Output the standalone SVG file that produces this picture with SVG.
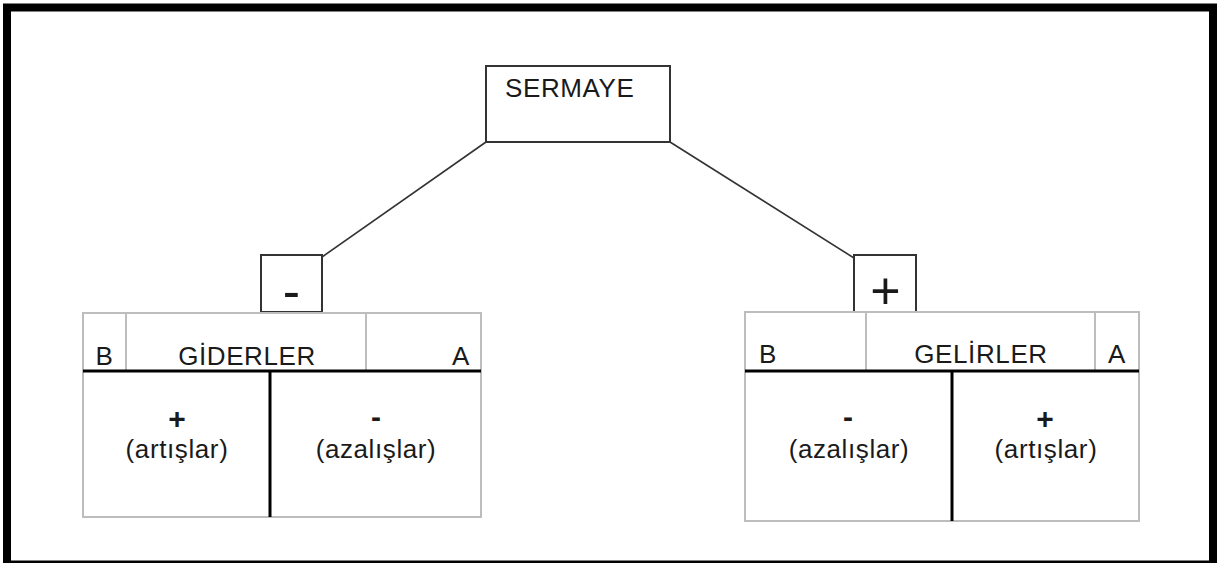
<svg xmlns="http://www.w3.org/2000/svg" width="1221" height="563" viewBox="0 0 1221 563">
<style>
text{font-family:"Liberation Sans",Arial,sans-serif;fill:#1a1a1a}
.lbl{font-size:26px;letter-spacing:0.6px}
.sign{font-size:30px;font-weight:bold;text-anchor:middle}
.big{font-size:52px;text-anchor:middle}
.mid{text-anchor:middle}
.box{fill:#fff;stroke:#333;stroke-width:2}
.tbl{fill:#fff;stroke:#bdbdbd;stroke-width:2}
.div{stroke:#bdbdbd;stroke-width:2}
.thick{stroke:#000;stroke-width:3}
.conn{stroke:#333;stroke-width:1.6;fill:none}
</style>
<rect x="0" y="0" width="1221" height="563" fill="#fff"/>
<rect x="7" y="7.5" width="1206" height="557" fill="none" stroke="#000" stroke-width="8"/>
<g id="connectors">
<line class="conn" x1="486" y1="142" x2="322" y2="257"/>
<line class="conn" x1="670" y1="142" x2="854" y2="258"/>
</g>
<g id="sermaye">
<rect class="box" x="486" y="66" width="184" height="76"/>
<text class="lbl" x="505" y="97">SERMAYE</text>
</g>
<g id="minus-box">
<rect class="box" x="261" y="255" width="61" height="57"/>
<text class="big" x="291.5" y="309">-</text>
</g>
<g id="plus-box">
<rect class="box" x="854" y="255" width="62" height="57"/>
<text class="big" x="885.5" y="309">+</text>
</g>
<g id="giderler">
<rect class="tbl" x="83" y="313" width="398" height="204"/>
<line class="div" x1="126" y1="313" x2="126" y2="371"/>
<line class="div" x1="366" y1="313" x2="366" y2="371"/>
<line class="thick" x1="83" y1="371" x2="481" y2="371"/>
<line class="thick" x1="270" y1="371" x2="270" y2="517"/>
<text class="lbl mid" x="104.5" y="365">B</text>
<text class="lbl mid" x="247" y="365">GİDERLER</text>
<text class="lbl" x="470" y="365" text-anchor="end">A</text>
<text class="sign" x="177" y="429">+</text>
<text class="lbl mid" x="177" y="458">(artışlar)</text>
<text class="sign" x="376" y="427">-</text>
<text class="lbl mid" x="376" y="458">(azalışlar)</text>
</g>
<g id="gelirler">
<rect class="tbl" x="745" y="312" width="394" height="209"/>
<line class="div" x1="866" y1="312" x2="866" y2="371"/>
<line class="div" x1="1095" y1="312" x2="1095" y2="371"/>
<line class="thick" x1="745" y1="371" x2="1139" y2="371"/>
<line class="thick" x1="952" y1="371" x2="952" y2="521"/>
<text class="lbl" x="759" y="363">B</text>
<text class="lbl mid" x="981" y="363">GELİRLER</text>
<text class="lbl mid" x="1117" y="363">A</text>
<text class="sign" x="848" y="427">-</text>
<text class="lbl mid" x="849" y="458">(azalışlar)</text>
<text class="sign" x="1045" y="429">+</text>
<text class="lbl mid" x="1046" y="458">(artışlar)</text>
</g>
</svg>
